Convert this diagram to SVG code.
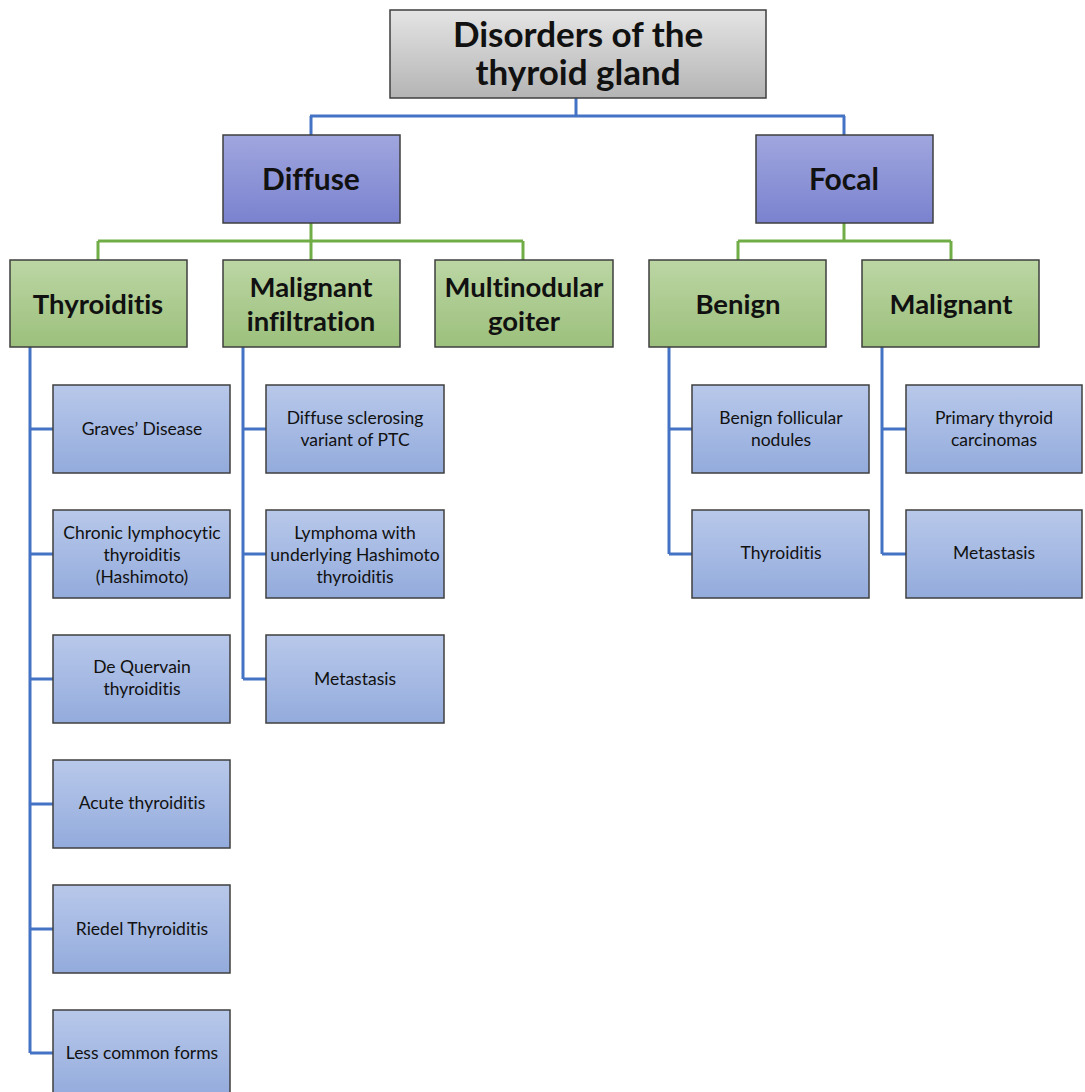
<svg xmlns="http://www.w3.org/2000/svg" width="1085" height="1092" viewBox="0 0 1085 1092">
<style>
.box{stroke:#3f3f3f;stroke-width:1.5}
.root{fill:url(#gGray)}
.l1{fill:url(#gPurple)}
.l2{fill:url(#gGreen)}
.leaf{fill:url(#gBlue)}
.blue{stroke:#4472c4;stroke-width:3;fill:none}
.green{stroke:#70ad47;stroke-width:3;fill:none}
text{font-family:Lato,"Open Sans","Liberation Sans",sans-serif;fill:#111;text-anchor:middle;font-variant-ligatures:none}
.t0{font-size:35px;font-weight:bold}
.t1{font-size:30px;font-weight:bold}
.t2{font-size:27.5px;font-weight:bold}
.t3{font-size:17.5px}
</style>
<defs>
<linearGradient id="gGray" x1="0" y1="0" x2="0" y2="1"><stop offset="0" stop-color="#e4e4e4"/><stop offset="1" stop-color="#b4b4b4"/></linearGradient>
<linearGradient id="gPurple" x1="0" y1="0" x2="0" y2="1"><stop offset="0" stop-color="#a0a6de"/><stop offset="1" stop-color="#7a82cf"/></linearGradient>
<linearGradient id="gGreen" x1="0" y1="0" x2="0" y2="1"><stop offset="0" stop-color="#bcd6a4"/><stop offset="1" stop-color="#9cc07c"/></linearGradient>
<linearGradient id="gBlue" x1="0" y1="0" x2="0" y2="1"><stop offset="0" stop-color="#b8c8ea"/><stop offset="1" stop-color="#93abdc"/></linearGradient>
</defs>
<rect width="1085" height="1092" fill="#ffffff"/>
<g id="connectors">
<path class="blue" d="M576 98V116M310 116H845M311 116V135M844 116V135"/>
<path class="green" d="M311 223V241M98 241H523M98 241V260M311 241V260M523 241V260"/>
<path class="green" d="M844 223V241M738 241H951M738 241V260M951 241V260"/>
<path class="blue" d="M30 347V1053M30 429H53M30 554H53M30 679H53M30 804H53M30 929H53M30 1053H53"/>
<path class="blue" d="M243 347V679M243 429H266M243 554H266M243 679H266"/>
<path class="blue" d="M669 347V554M669 429H692M669 554H692"/>
<path class="blue" d="M882 347V554M882 429H906M882 554H906"/>
</g>
<g id="root"><rect class="box root" x="390" y="10" width="376" height="88"/><text class="t0" x="578" y="47">Disorders of the</text><text class="t0" x="578" y="85">thyroid gland</text></g>
<g id="diffuse"><rect class="box l1" x="223" y="135" width="177" height="88"/><text class="t1" x="311" y="190">Diffuse</text></g>
<g id="focal"><rect class="box l1" x="756" y="135" width="177" height="88"/><text class="t1" x="844" y="190">Focal</text></g>
<g id="thyroiditis"><rect class="box l2" x="10" y="260" width="177" height="87"/><text class="t2" x="98" y="314">Thyroiditis</text></g>
<g id="malignant-infiltration"><rect class="box l2" x="223" y="260" width="177" height="87"/><text class="t2" x="311" y="297">Malignant</text><text class="t2" x="311" y="331">infiltration</text></g>
<g id="multinodular-goiter"><rect class="box l2" x="435" y="260" width="178" height="87"/><text class="t2" x="524" y="297">Multinodular</text><text class="t2" x="524" y="331">goiter</text></g>
<g id="benign"><rect class="box l2" x="649" y="260" width="177" height="87"/><text class="t2" x="738" y="314">Benign</text></g>
<g id="malignant"><rect class="box l2" x="862" y="260" width="177" height="87"/><text class="t2" x="951" y="314">Malignant</text></g>
<g id="graves"><rect class="box leaf" x="53" y="385" width="177" height="88"/><text class="t3" x="142" y="435">Graves’ Disease</text></g>
<g id="chronic"><rect class="box leaf" x="53" y="510" width="177" height="88"/><text class="t3" x="142" y="539">Chronic lymphocytic</text><text class="t3" x="142" y="561">thyroiditis</text><text class="t3" x="142" y="583">(Hashimoto)</text></g>
<g id="dequervain"><rect class="box leaf" x="53" y="635" width="177" height="88"/><text class="t3" x="142" y="673">De Quervain</text><text class="t3" x="142" y="695">thyroiditis</text></g>
<g id="acute"><rect class="box leaf" x="53" y="760" width="177" height="88"/><text class="t3" x="142" y="809">Acute thyroiditis</text></g>
<g id="riedel"><rect class="box leaf" x="53" y="885" width="177" height="88"/><text class="t3" x="142" y="935">Riedel Thyroiditis</text></g>
<g id="lesscommon"><rect class="box leaf" x="53" y="1010" width="177" height="88"/><text class="t3" x="142" y="1059">Less common forms</text></g>
<g id="sclerosing"><rect class="box leaf" x="266" y="385" width="178" height="88"/><text class="t3" x="355" y="424">Diffuse sclerosing</text><text class="t3" x="355" y="446">variant of PTC</text></g>
<g id="lymphoma"><rect class="box leaf" x="266" y="510" width="178" height="88"/><text class="t3" x="355" y="539">Lymphoma with</text><text class="t3" x="355" y="561">underlying Hashimoto</text><text class="t3" x="355" y="583">thyroiditis</text></g>
<g id="metastasis1"><rect class="box leaf" x="266" y="635" width="178" height="88"/><text class="t3" x="355" y="685">Metastasis</text></g>
<g id="follicular"><rect class="box leaf" x="692" y="385" width="177" height="88"/><text class="t3" x="781" y="424">Benign follicular</text><text class="t3" x="781" y="446">nodules</text></g>
<g id="thyroiditis2"><rect class="box leaf" x="692" y="510" width="177" height="88"/><text class="t3" x="781" y="559">Thyroiditis</text></g>
<g id="primary"><rect class="box leaf" x="906" y="385" width="176" height="88"/><text class="t3" x="994" y="424">Primary thyroid</text><text class="t3" x="994" y="446">carcinomas</text></g>
<g id="metastasis2"><rect class="box leaf" x="906" y="510" width="176" height="88"/><text class="t3" x="994" y="559">Metastasis</text></g>
</svg>
